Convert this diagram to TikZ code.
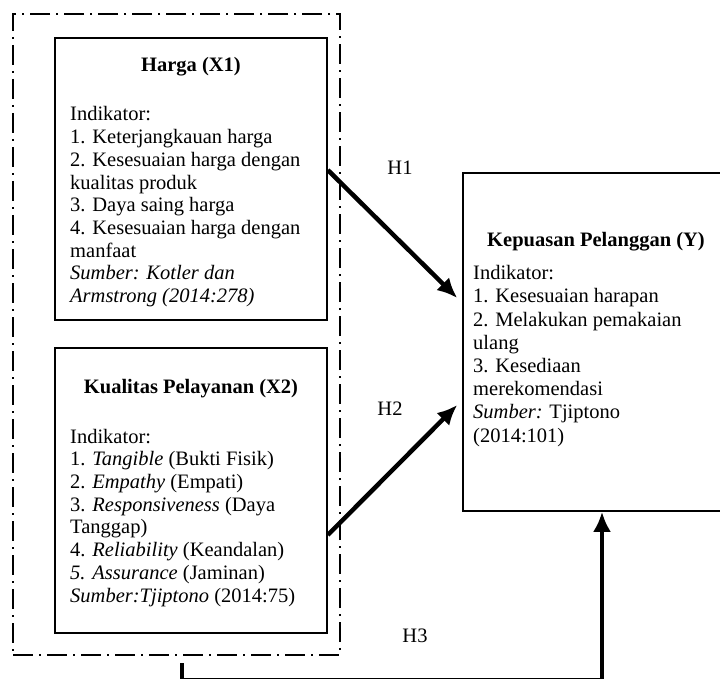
\documentclass[tikz,border=0pt]{standalone}
\usepackage{fontspec}
\setmainfont{Liberation Serif}
\usetikzlibrary{arrows.meta,positioning}

\begin{document}
\begin{tikzpicture}[x=1pt,y=-1pt,>=Latex,line join=miter]
\useasboundingbox (0,0) rectangle (720,679);
\clip (0,0) rectangle (720,679);
\tikzset{box/.style={draw=black,line width=1.6pt,inner sep=0pt},frame/.style={draw=black,line width=1.6pt,dash pattern=on 20pt off 6pt on 2pt off 6pt},head/.style={font=\fontsize{20.5}{22.7}\selectfont\bfseries,inner sep=0pt,anchor=base},txt/.style={font=\fontsize{20.5}{22.7}\selectfont,align=left,inner sep=0pt,anchor=base west},hyp/.style={draw=black,line width=4.5pt,-{Latex[length=20pt,width=18pt]}},hlabel/.style={font=\fontsize{20.5}{22.7}\selectfont,inner sep=0pt,anchor=base}}
% variabel bebas dalam satu kelompok (isi diletakkan pada baris terakhir)
\node[frame,minimum width=327pt,minimum height=641pt] (grup) at (176.5,334.5) {};
\node[box,minimum width=272pt,minimum height=282pt] (harga) at (191,179) {};
\node[head] (hargaJudul) at (191,72) {Harga (X1)};
\node[txt] (hargaIsi) at (70,302.5) {Indikator:\\1. Keterjangkauan harga\\2. Kesesuaian harga dengan\\kualitas produk\\3. Daya saing harga\\4. Kesesuaian harga dengan\\manfaat\\\textit{Sumber: Kotler dan}\\\textit{Armstrong (2014:278)}};
\node[box,minimum width=272pt,minimum height=285pt] (layanan) at (191,490.5) {};
\node[head] (layananJudul) at (191,393) {Kualitas Pelayanan (X2)};
\node[txt] (layananIsi) at (70,602) {Indikator:\\1. \textit{Tangible} (Bukti Fisik)\\2. \textit{Empathy} (Empati)\\3. \textit{Responsiveness} (Daya\\Tanggap)\\4. \textit{Reliability} (Keandalan)\\\textit{5. Assurance} (Jaminan)\\\textit{Sumber:Tjiptono} (2014:75)};
% variabel terikat
\node[box,minimum width=272pt,minimum height=338pt] (puas) at (599,342) {};
\node[head] (puasJudul) at (596,247) {Kepuasan Pelanggan (Y)};
\node[txt,font=\fontsize{20.5}{23.2}\selectfont] (puasIsi) at (473,442) {Indikator:\\1. Kesesuaian harapan\\2. Melakukan pemakaian\\ulang\\3. Kesediaan\\merekomendasi\\\textit{Sumber:} Tjiptono\\(2014:101)};
% hipotesis
\draw[hyp] ([yshift=9pt]harga.east) -- ([xshift=-5pt,yshift=44pt]puas.west);
\draw[hyp] ([yshift=-44.5pt]layanan.east) -- ([xshift=-5pt,yshift=-63pt]puas.west);
\coordinate (h3a) at (182,663);
\coordinate (h3b) at (602,680);
\draw[hyp] (h3a) |- (h3b) -- (h3b |- puas.south);
\node[hlabel] (h1) at (400,175) {H1};
\node[hlabel] (h2) at (390,415) {H2};
\node[hlabel] (h3) at (415,642) {H3};
\end{tikzpicture}
\end{document}
